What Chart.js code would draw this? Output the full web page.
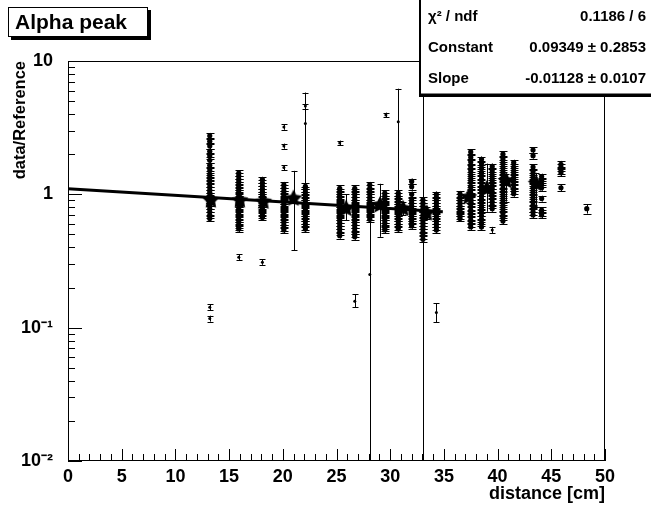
<!DOCTYPE html>
<html>
<head>
<meta charset="utf-8">
<script src="https://cdn.jsdelivr.net/npm/chart.js@4.4.0/dist/chart.umd.min.js"></script>
<style>
html, body { margin: 0; padding: 0; background: #fff; }
</style>
</head>
<body>
<canvas id="chart" width="651" height="506"></canvas>
<script>
// axis ticks
const xTicks = [0, 5, 10, 15, 20, 25, 30, 35, 40, 45, 50]
const yTicks = [0.01, 0.1, 1, 10]
const yTickLabels = ['10⁻²', '10⁻¹', '1', '10']

// stacked measurements, one column per distance
const clusterX = [13.2, 15.9, 18.1, 20.1, 22.1, 25.3, 26.7, 28.1, 29.5, 30.75, 32.0, 33.05, 34.3,
                  36.5, 37.5, 38.5, 39.5, 40.5, 41.5, 43.3, 44.1, 45.9, 48.3]
const clusterY = [
  [2.75, 2.5, 2.3, 2.1, 1.95, 1.8, 1.65, 1.52, 1.42, 1.34, 1.27, 1.2, 1.14, 1.08, 1.03, 0.98, 0.94, 0.9, 0.86, 0.82, 0.78, 0.74, 0.7, 0.66],
  [1.44, 1.37, 1.3, 1.24, 1.18, 1.13, 1.08, 1.03, 0.99, 0.95, 0.91, 0.87, 0.84, 0.8, 0.77, 0.74, 0.71, 0.68, 0.65, 0.62, 0.59, 0.57, 0.55],
  [1.29, 1.22, 1.16, 1.1, 1.05, 1.0, 0.96, 0.92, 0.88, 0.85, 0.82, 0.79, 0.76, 0.73, 0.7, 0.67],
  [1.18, 1.12, 1.06, 1.01, 0.97, 0.93, 0.89, 0.86, 0.83, 0.8, 0.77, 0.74, 0.71, 0.68, 0.65, 0.62, 0.59, 0.56, 0.54],
  [1.15, 1.09, 1.04, 0.99, 0.95, 0.91, 0.87, 0.84, 0.81, 0.78, 0.75, 0.72, 0.69, 0.66, 0.63, 0.6, 0.57, 0.55],
  [1.11, 1.05, 1.0, 0.96, 0.92, 0.88, 0.85, 0.82, 0.79, 0.76, 0.73, 0.7, 0.67, 0.64, 0.61, 0.58, 0.55, 0.52, 0.49],
  [1.11, 1.05, 1.0, 0.95, 0.91, 0.87, 0.83, 0.8, 0.77, 0.74, 0.71, 0.68, 0.65, 0.62, 0.59, 0.56, 0.53, 0.5, 0.48],
  [1.18, 1.11, 1.05, 1.0, 0.95, 0.91, 0.87, 0.83, 0.8, 0.77, 0.74, 0.71, 0.68, 0.65],
  [1.02, 0.97, 0.93, 0.89, 0.85, 0.82, 0.79, 0.76, 0.73, 0.7, 0.67, 0.64, 0.61, 0.58, 0.56, 0.54],
  [1.02, 0.97, 0.93, 0.89, 0.85, 0.81, 0.78, 0.75, 0.72, 0.69, 0.66, 0.63, 0.6, 0.57, 0.55],
  [1.25, 1.14, 1.0, 0.9, 0.86, 0.82, 0.78, 0.75, 0.72, 0.69, 0.66, 0.63, 0.6, 0.58],
  [0.91, 0.86, 0.82, 0.78, 0.74, 0.7, 0.67, 0.64, 0.61, 0.58, 0.55, 0.52, 0.49, 0.46],
  [1.0, 0.95, 0.9, 0.86, 0.82, 0.78, 0.75, 0.72, 0.69, 0.66, 0.63, 0.6, 0.57, 0.54],
  [1.01, 0.95, 0.9, 0.86, 0.82, 0.78, 0.75, 0.72, 0.69, 0.66],
  [2.08, 1.9, 1.75, 1.62, 1.5, 1.4, 1.31, 1.23, 1.15, 1.08, 1.02, 0.96, 0.91, 0.86, 0.81, 0.76, 0.72, 0.68, 0.64, 0.6, 0.57],
  [1.83, 1.7, 1.58, 1.47, 1.38, 1.3, 1.22, 1.15, 1.09, 1.03, 0.97, 0.92, 0.87, 0.82, 0.77, 0.73, 0.69, 0.65, 0.61, 0.57],
  [1.62, 1.5, 1.4, 1.31, 1.23, 1.16, 1.1, 1.04, 0.98, 0.93, 0.88, 0.83, 0.78],
  [2.0, 1.85, 1.72, 1.6, 1.5, 1.41, 1.33, 1.25, 1.18, 1.11, 1.05, 0.99, 0.93, 0.87, 0.82, 0.77, 0.72, 0.67, 0.63],
  [1.73, 1.6, 1.5, 1.41, 1.33, 1.25, 1.18, 1.11, 1.05, 1.01],
  [2.15, 1.95, 1.6, 1.48, 1.38, 1.29, 1.21, 1.13, 1.06, 1.0, 0.94, 0.88, 0.83, 0.78, 0.74, 0.7],
  [1.36, 1.27, 1.2, 1.12, 0.93, 0.76, 0.73, 0.7],
  [1.68, 1.6, 1.52, 1.45, 1.12],
  [0.78]
]
const clusterErr = [0.05, 0.05, 0.05, 0.05, 0.05, 0.05, 0.05, 0.05, 0.05, 0.05, 0.05, 0.05, 0.05,
                    0.05, 0.05, 0.05, 0.05, 0.05, 0.05, 0.05, 0.05, 0.06, 0.08]

// single points away from the stacks
const oddX  = [13.2, 13.2, 15.9, 18.1, 20.1, 20.1, 20.1, 22.1, 22.1, 25.3, 26.7, 28.1, 29.6, 30.75, 33.05, 34.3, 39.5]
const oddY  = [0.142, 0.117, 0.338, 0.31, 3.2, 2.3, 1.59, 4.6, 3.4, 2.43, 0.158, 0.25, 3.93, 3.5, 0.75, 0.13, 0.54]
const oddLo = [0.135, 0.111, 0.322, 0.296, 3.05, 2.2, 1.52, 4.4, 1.0, 2.33, 0.142, 0.001, 3.8, 0.8, 0.001, 0.11, 0.51]
const oddHi = [0.15, 0.123, 0.355, 0.325, 3.35, 2.4, 1.66, 4.8, 5.8, 2.53, 0.178, 0.77, 4.1, 6.2, 20, 0.153, 0.57]

// mean points (stars)
const starX  = [13.3, 16.0, 18.2, 21.0, 25.9, 29.05, 31.2, 33.4, 37.3, 39.0, 40.8, 43.6]
const starY  = [0.9, 0.9, 0.88, 0.93, 0.78, 0.83, 0.78, 0.72, 0.95, 1.1, 1.26, 1.2]
const starLo = [0.82, 0.82, 0.8, 0.38, 0.64, 0.48, 0.7, 0.65, 0.86, 0.74, 0.88, 0.8]
const starHi = [0.98, 0.98, 0.96, 1.5, 1.0, 1.2, 0.87, 0.8, 1.05, 1.7, 1.43, 1.45]

// exponential fit, straight on a log axis
const fitX = [0, 34.9]
const fitY = [1.10, 0.74]

const titleText = 'Alpha peak'
const statNames = ['χ² / ndf', 'Constant', 'Slope']
const statValues = ['0.1186 / 6', '0.09349 ± 0.2853', '-0.01128 ± 0.0107']

const FONT = "'Liberation Sans', Arial, Helvetica, sans-serif"
Chart.defaults.font.family = FONT
Chart.defaults.color = '#000'

// build point lists
let clusterPts = []
clusterX.forEach((x, i) => {
    clusterY[i].forEach(y => {
        clusterPts.push({x: x, y: y, lo: y * (1 - clusterErr[i]), hi: y * (1 + clusterErr[i])})
    })
})
const oddPts = oddX.map((x, i) => ({x: x, y: oddY[i], lo: oddLo[i], hi: oddHi[i]}))
const starPts = starX.map((x, i) => ({x: x, y: starY[i], lo: starLo[i], hi: starHi[i]}))
const fitPts = fitX.map((x, i) => ({x: x, y: fitY[i]}))

function makeStar(r){
    const s = Math.ceil(r * 2 + 2)
    const c = document.createElement('canvas')
    c.width = s
    c.height = s
    const g = c.getContext('2d')
    g.fillStyle = '#000'
    g.beginPath()
    for(let k = 0; k < 10; k++){
        const rr = k % 2 ? r * 0.5 : r
        const a = -Math.PI / 2 + k * Math.PI / 5
        g.lineTo(s / 2 + rr * Math.cos(a), s / 2 + rr * Math.sin(a))
    }
    g.closePath()
    g.fill()
    return c
}

const errorBars = {
    id: 'errorBars',
    beforeDatasetsDraw(chart){
        const ctx = chart.ctx
        const a = chart.chartArea
        const ys = chart.scales.y
        ctx.save()
        ctx.beginPath()
        ctx.rect(a.left, a.top, a.right - a.left, a.bottom - a.top)
        ctx.clip()
        ctx.strokeStyle = '#000'
        ctx.lineWidth = 1
        chart.data.datasets.forEach((ds, i) => {
            if(!ds.errorBars) return
            const meta = chart.getDatasetMeta(i)
            meta.data.forEach((pt, j) => {
                const d = ds.data[j]
                const top = ys.getPixelForValue(d.hi)
                const bot = ys.getPixelForValue(d.lo)
                const x = Math.round(pt.x) + 0.5
                const cap = ds.capHalf
                ctx.beginPath()
                ctx.moveTo(x, top)
                ctx.lineTo(x, bot)
                ctx.moveTo(x - cap, Math.round(top) + 0.5)
                ctx.lineTo(x + cap, Math.round(top) + 0.5)
                ctx.moveTo(x - cap, Math.round(bot) + 0.5)
                ctx.lineTo(x + cap, Math.round(bot) + 0.5)
                ctx.stroke()
            })
        })
        ctx.restore()
    }
}

const frame = {
    id: 'frame',
    afterDatasetsDraw(chart){
        const ctx = chart.ctx
        const a = chart.chartArea
        const xs = chart.scales.x
        const ys = chart.scales.y
        ctx.save()
        ctx.strokeStyle = '#000'
        ctx.lineWidth = 1
        ctx.strokeRect(a.left + 0.5, a.top + 0.5, a.right - a.left - 1, a.bottom - a.top - 1)
        ctx.beginPath()
        // x ticks, pointing inwards
        for(let v = xs.min; v <= xs.max; v += 1){
            const px = Math.round(xs.getPixelForValue(v)) + 0.5
            const len = v % 5 === 0 ? 12 : 7
            ctx.moveTo(px, a.bottom)
            ctx.lineTo(px, a.bottom - len)
        }
        // y log ticks
        for(let dec = ys.min; dec < ys.max * 0.999; dec *= 10){
            for(let m = 1; m <= 9; m++){
                const v = dec * m
                const py = Math.round(ys.getPixelForValue(v)) + 0.5
                const len = m === 1 ? 14 : 7
                ctx.moveTo(a.left, py)
                ctx.lineTo(a.left + len, py)
            }
        }
        ctx.stroke()
        ctx.restore()
    },
    afterDraw(chart){
        const ctx = chart.ctx
        ctx.save()
        // title box with shadow
        ctx.fillStyle = '#000'
        ctx.fillRect(11, 10, 140, 30)
        ctx.fillStyle = '#fff'
        ctx.fillRect(8, 7, 140, 30)
        ctx.strokeStyle = '#000'
        ctx.lineWidth = 1
        ctx.strokeRect(8.5, 7.5, 139, 29)
        ctx.fillStyle = '#000'
        ctx.font = 'bold 21px ' + FONT
        ctx.textBaseline = 'middle'
        ctx.textAlign = 'left'
        ctx.fillText(titleText, 15, 23)

        // fit statistics box
        ctx.fillStyle = '#000'
        ctx.fillRect(419, 0, 232, 97)
        ctx.fillStyle = '#fff'
        ctx.fillRect(421, 0, 230, 94)
        ctx.strokeStyle = '#000'
        ctx.strokeRect(420.5, -1, 240, 95)
        ctx.fillStyle = '#000'
        ctx.font = 'bold 15px ' + FONT
        statNames.forEach((n, i) => {
            const y = 17 + i * 31
            ctx.textAlign = 'left'
            ctx.fillText(n, 428, y)
            ctx.textAlign = 'right'
            ctx.fillText(statValues[i], 646, y)
        })
        ctx.restore()
    }
}

new Chart(document.getElementById('chart'), {
    type: 'scatter',
    data: {
        datasets: [
            {
                data: fitPts,
                showLine: true,
                borderColor: '#000',
                borderWidth: 3,
                pointRadius: 0
            },
            {
                data: starPts,
                errorBars: true,
                capHalf: 3,
                pointStyle: makeStar(9),
                pointRadius: 9
            },
            {
                data: clusterPts,
                errorBars: true,
                capHalf: 4,
                backgroundColor: '#000',
                borderColor: '#000',
                borderWidth: 0,
                pointRadius: 2.6
            },
            {
                data: oddPts,
                errorBars: true,
                capHalf: 3,
                backgroundColor: '#000',
                borderColor: '#000',
                borderWidth: 0,
                pointRadius: 1.5
            }
        ]
    },
    options: {
        responsive: false,
        animation: false,
        layout: {padding: {left: 0, right: 46, top: 61, bottom: 0}},
        plugins: {legend: {display: false}, tooltip: {enabled: false}},
        scales: {
            x: {
                type: 'linear',
                min: 0,
                max: 50,
                afterFit: s => { s.height = 45 },
                afterBuildTicks: s => { s.ticks = xTicks.map(v => ({value: v})) },
                grid: {display: false, drawTicks: false},
                border: {display: false},
                ticks: {autoSkip: false, maxRotation: 0, padding: 5, font: {size: 18, weight: 'bold'}, color: '#000'},
                title: {display: true, text: 'distance [cm]', align: 'end', padding: {top: 0, bottom: 1}, font: {size: 18, weight: 'bold'}, color: '#000'}
            },
            y: {
                type: 'logarithmic',
                min: 0.01,
                max: 10,
                afterFit: s => { s.width = 68 },
                afterBuildTicks: s => { s.ticks = yTicks.map(v => ({value: v})) },
                grid: {display: false, drawTicks: false},
                border: {display: false},
                ticks: {autoSkip: false, padding: 15, font: {size: 18, weight: 'bold'}, color: '#000',
                    callback: (v, i) => yTickLabels[i]},
                title: {display: true, text: 'data/Reference', align: 'end', padding: {top: 11, bottom: 0}, font: {size: 16.5, weight: 'bold'}, color: '#000'}
            }
        }
    },
    plugins: [errorBars, frame]
})
</script>
</body>
</html>
